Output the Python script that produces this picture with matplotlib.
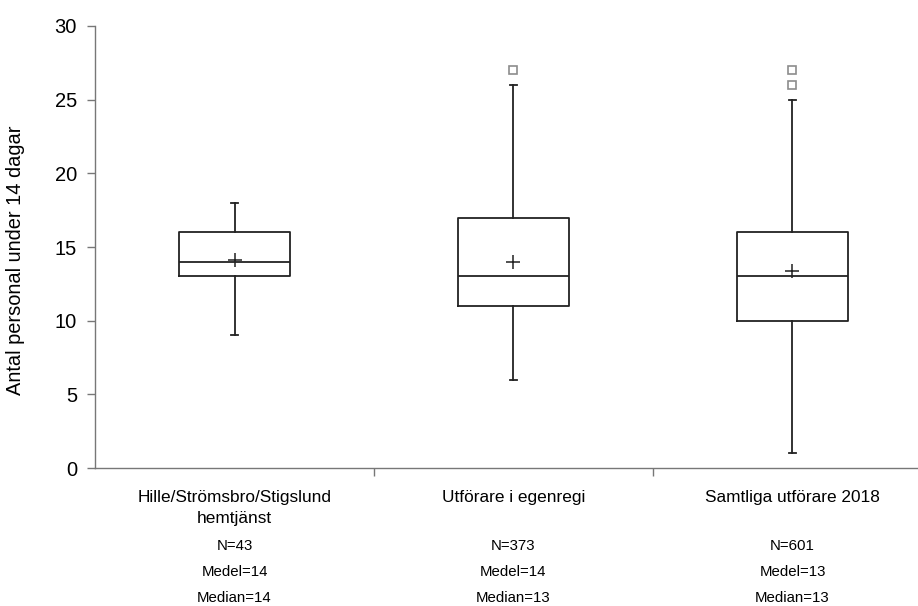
import matplotlib.pyplot as plt
from matplotlib.ticker import FixedLocator

plt.rcParams['font.family'] = ['Liberation Sans', 'DejaVu Sans']

# Box statistics
groups = ['Hille/Strömsbro/Stigslund\nhemtjänst', 'Utförare i egenregi', 'Samtliga utförare 2018']
whislo = [9, 6, 1]
q1 = [13, 11, 10]
med = [14, 13, 13]
q3 = [16, 17, 16]
whishi = [18, 26, 25]
means = [14.1, 14.0, 13.4]
fliers = [[], [27], [26, 27]]
n_vals = [43, 373, 601]
medel = [14, 14, 13]
median_txt = [14, 13, 13]

stats = []
for i in range(len(groups)):
    stats.append(dict(whislo=whislo[i], q1=q1[i], med=med[i], q3=q3[i],
                      whishi=whishi[i], mean=means[i], fliers=fliers[i]))

fig = plt.figure(figsize=(9.18, 6.06), dpi=100)
ax = fig.add_axes([0.1035, 0.2277, 0.8965, 0.7294])

lc = '#222222'
ax.bxp(stats, positions=range(len(groups)), widths=0.4, showmeans=True,
       boxprops=dict(color=lc, linewidth=1.3),
       medianprops=dict(color=lc, linewidth=1.3),
       whiskerprops=dict(color=lc, linewidth=1.3),
       capprops=dict(color=lc, linewidth=1.3),
       capwidths=0.022,
       meanprops=dict(marker='+', markeredgecolor=lc, markersize=10, markeredgewidth=1.1),
       flierprops=dict(marker='s', markerfacecolor='white', markeredgecolor='#8c8c8c',
                       markersize=6, markeredgewidth=1.2))

ax.set_ylim(0, 30)
ax.set_xlim(-0.5, 2.45)
ax.set_yticks(range(0, 31, 5))
ax.tick_params(axis='y', labelsize=14.5, length=6, color='#777777', width=1, pad=7)
ax.set_ylabel('Antal personal under 14 dagar', fontsize=14.4)
ax.yaxis.set_label_coords(-0.085, 0.47)

ax.set_xticks([])
ax.xaxis.set_minor_locator(FixedLocator([0.5, 1.5]))
ax.tick_params(axis='x', which='minor', length=6, color='#777777', width=1)

for s in ['top', 'right']:
    ax.spines[s].set_visible(False)
for s in ['left', 'bottom']:
    ax.spines[s].set_color('#777777')
    ax.spines[s].set_linewidth(1)

tr = ax.get_xaxis_transform()
for i, g in enumerate(groups):
    ax.text(i, -0.05, g, transform=tr, ha='center', va='top', fontsize=12.4, linespacing=1.5)
    ax.text(i, -0.1765, f'N={n_vals[i]}', transform=tr, ha='center', va='center', fontsize=10.8)
    ax.text(i, -0.235, f'Medel={medel[i]}', transform=tr, ha='center', va='center', fontsize=10.8)
    ax.text(i, -0.294, f'Median={median_txt[i]}', transform=tr, ha='center', va='center', fontsize=10.8)

fig.savefig('out.png', dpi=100)
